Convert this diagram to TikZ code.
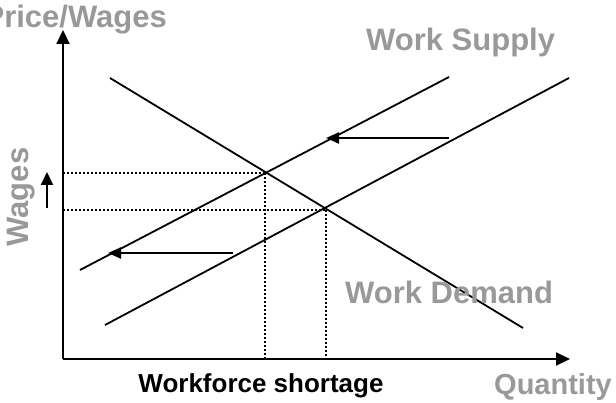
\documentclass[tikz,border=0pt]{standalone}
\usepackage{fontspec}
\setmainfont{Liberation Sans}
\usetikzlibrary{arrows.meta}
\definecolor{labelgray}{RGB}{153,153,153}
\tikzset{
  axisline/.style={line width=2.2pt,-{Triangle[length=14pt,width=13pt]}},
  curve/.style={line width=1.8pt},
  shiftarrow/.style={line width=2.2pt,-{Triangle[length=13pt,width=11pt]}},
  guide/.style={line width=1.6pt,dash pattern=on 1.6pt off 2.4pt},
  graylabel/.style={text=labelgray,font=\fontsize{31}{34}\selectfont\bfseries,inner sep=0pt},
  blacklabel/.style={text=black,font=\fontsize{26}{29}\selectfont\bfseries,inner sep=0pt}
}
\begin{document}
\begin{tikzpicture}[x=1pt,y=-1pt]
\useasboundingbox (0,0) rectangle (616,403);
% axes
\coordinate (O) at (63,359);
\coordinate (Ytop) at (63,30);
\coordinate (Xend) at (570,359);
\draw[axisline] (O) -- (Ytop);
\draw[axisline] (O) -- (Xend);
% demand
\coordinate (D1) at (110,78);
\coordinate (D2) at (523,328);
\draw[curve] (D1) -- (D2);
% supply curves
\coordinate (S1a) at (80,270);
\coordinate (S1b) at (449,77);
\coordinate (S2a) at (105,325);
\coordinate (S2b) at (569,78);
\draw[curve] (S1a) -- (S1b);
\draw[curve] (S2a) -- (S2b);
% equilibria
\coordinate (E1) at (265,173);
\coordinate (E2) at (326,210);
\draw[guide] (E1 -| O) -- (E1);
\draw[guide] (E2 -| O) -- (E2);
\draw[guide] (E1) -- (E1 |- O);
\draw[guide] (E2) -- (E2 |- O);
% shift arrows
\coordinate (A1t) at (449,138);
\coordinate (A1h) at (326,138);
\coordinate (A2t) at (233,253);
\coordinate (A2h) at (108,253);
\draw[shiftarrow] (A1t) -- (A1h);
\draw[shiftarrow] (A2t) -- (A2h);
% wage up arrow
\coordinate (W1) at (47,208);
\coordinate (W2) at (47,172);
\draw[line width=2pt,-{Triangle[length=13pt,width=12pt]}] (W1) -- (W2);
% labels
\node[graylabel,anchor=base east] (py) at (167,28) {Price/Wages};
\node[graylabel,rotate=90] (wg) at (21,197) {Wages};
\node[graylabel,anchor=base west] (ws) at (366,51) {Work Supply};
\node[graylabel,anchor=base west] (wd) at (345,304) {Work Demand};
\node[graylabel,anchor=base east,font=\fontsize{29}{32}\selectfont\bfseries] (qt) at (612,395) {Quantity};
\node[blacklabel,anchor=base] (wf) at (261,392) {Workforce shortage};
\end{tikzpicture}
\end{document}
